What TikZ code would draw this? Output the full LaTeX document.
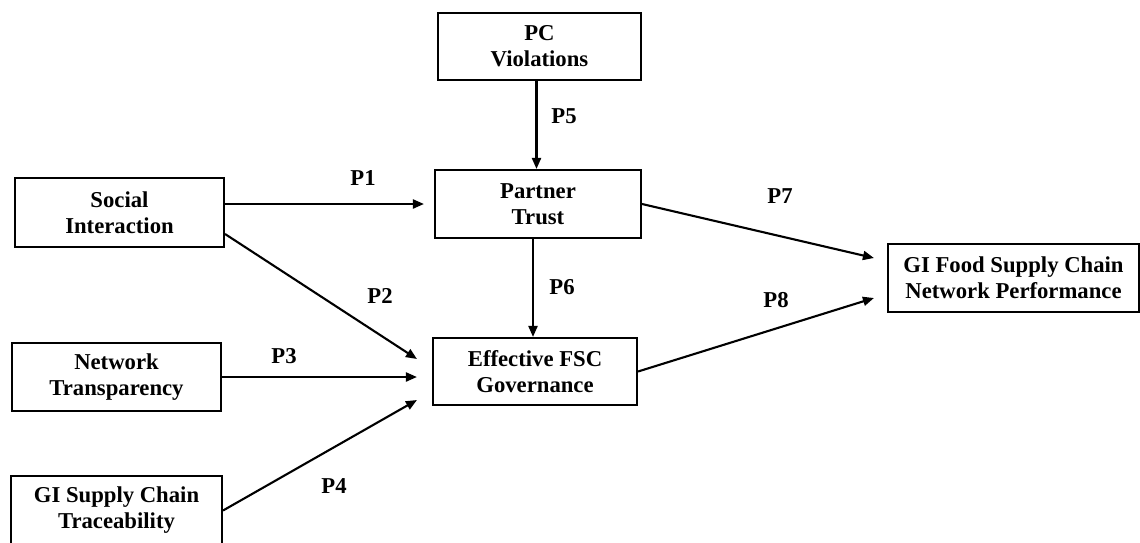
\documentclass[tikz,border=0pt]{standalone}
\usepackage{fontspec}
\setmainfont{Liberation Serif}
\usetikzlibrary{arrows.meta,calc}

\tikzset{
  box/.style={draw, line width=2.1pt, inner sep=0pt, align=center,
              font=\bfseries\fontsize{22.7}{26}\selectfont},
  plabel/.style={inner sep=0pt, font=\bfseries\fontsize{22.7}{26}\selectfont},
  arr/.style={line width=2.1pt, -{Triangle[length=11pt,width=9pt]}}
}

\begin{document}
\begin{tikzpicture}[x=1pt, y=-1pt]
  \useasboundingbox (0,0) rectangle (1140,542);
  \clip (0,0) rectangle (1140,542);

  % constructs
  \node[box, minimum width=203, minimum height=67] (pc)     at (539.5,46.5) {PC\\Violations};
  \node[box, minimum width=206, minimum height=68] (trust)  at (538,204)    {Partner\\Trust};
  \node[box, minimum width=204, minimum height=67] (gov)    at (535,371.5)  {Effective FSC\\Governance};
  \node[box, minimum width=209, minimum height=69] (social) at (119.5,212.5) {Social\\Interaction};
  \node[box, minimum width=209, minimum height=68] (transp) at (116.5,377)  {Network\\Transparency};
  \node[box, minimum width=211, minimum height=69] (trace)  at (116.5,510.5) {GI Supply Chain\\Traceability};
  \node[box, minimum width=251, minimum height=68] (perf)   at (1013.5,278) {GI Food Supply Chain\\Network Performance};

  % propositions
  \draw[arr] ([xshift=-3pt]pc.south) -- ([xshift=-3pt]pc.south |- trust.north);
  \draw[arr] (social.east |- trust.west) -- ($(trust.west)+(-10,0)$);
  \draw[arr] (trust.east) -- ($(perf.west)+(-13,-20)$);
  \draw[arr] ([xshift=-5pt]trust.south) -- ([xshift=-5pt]trust.south |- gov.north);
  \draw[arr] ($(social.east)+(0,21.5)$) -- ($(gov.west)+(-15,-12.5)$);
  \draw[arr] (transp.east) -- ($(gov.west |- transp.east)+(-15,0)$);
  \draw[arr] (trace.east) -- ($(gov.west)+(-15,28.5)$);
  \draw[arr] (gov.east) -- ($(perf.west)+(-13,20)$);

  % proposition labels
  \node[plabel] (l1) at (363,178) {P1};
  \node[plabel] (l2) at (380,296) {P2};
  \node[plabel] (l3) at (284,356) {P3};
  \node[plabel] (l4) at (334,486) {P4};
  \node[plabel] (l5) at (564,116) {P5};
  \node[plabel] (l6) at (562,287) {P6};
  \node[plabel] (l7) at (780,196) {P7};
  \node[plabel] (l8) at (776,300) {P8};
\end{tikzpicture}
\end{document}
